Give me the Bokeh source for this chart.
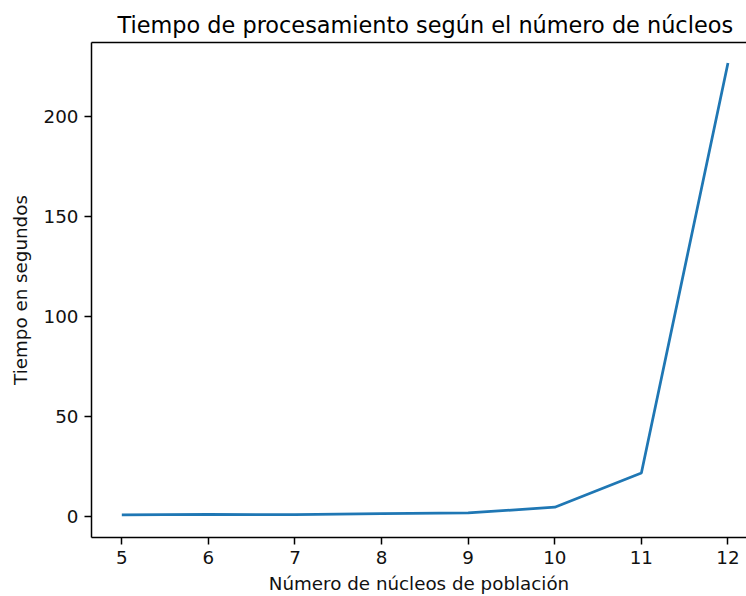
from bokeh.plotting import figure
from bokeh.models import Range1d, FixedTicker, LinearAxis
from bokeh.embed import file_html
from bokeh.resources import INLINE

nucleos = [5, 6, 7, 8, 9, 10, 11, 12]
tiempo = [0.6, 0.9, 0.7, 1.2, 1.6, 4.5, 21.6, 227.0]
x_ticks = [5, 6, 7, 8, 9, 10, 11, 12]
y_ticks = [0, 50, 100, 150, 200]

FONT = "DejaVu Sans"
LBL = "18.3px"

p = figure(width=746, height=596, output_backend="svg", toolbar_location=None,
           x_range=Range1d(4.65, 12.214), y_range=Range1d(-10.7, 237.3),
           min_border_left=91, min_border_right=0, min_border_top=42, min_border_bottom=58,
           title="Tiempo de procesamiento según el número de núcleos")

p.line(nucleos, tiempo, line_color="#1f77b4", line_width=2.75)

p.title.align = "left"
p.title.offset = 26
p.title.text_font = FONT
p.title.text_font_size = "22.4px"
p.title.text_font_style = "normal"
p.title.text_color = "#000000"

p.outline_line_color = None
p.grid.visible = False
p.background_fill_color = "white"
p.border_fill_color = "white"

xax = p.below[0]
yax = p.left[0]

for ax in (xax, yax):
    ax.axis_line_color = "#000000"
    ax.axis_line_width = 1.5
    ax.major_tick_line_color = "#000000"
    ax.major_tick_line_width = 1.5
    ax.major_tick_out = 7
    ax.major_tick_in = 0
    ax.minor_tick_line_color = None
    ax.major_label_text_font = FONT
    ax.major_label_text_font_size = LBL
    ax.major_label_text_color = "#111111"
    ax.axis_label_text_font = FONT
    ax.axis_label_text_font_size = LBL
    ax.axis_label_text_font_style = "normal"
    ax.axis_label_text_color = "#111111"
    ax.major_label_standoff = 6

xax.ticker = FixedTicker(ticks=x_ticks)
yax.ticker = FixedTicker(ticks=y_ticks)
xax.axis_label = "Número de núcleos de población"
yax.axis_label = "Tiempo en segundos"
xax.axis_label_standoff = 6
yax.axis_label_standoff = 10

top_axis = LinearAxis(ticker=FixedTicker(ticks=[]), axis_line_color="#000000",
                      axis_line_width=1.5, major_tick_line_color=None,
                      minor_tick_line_color=None, major_label_text_font_size="0px",
                      major_label_standoff=0, major_tick_out=0, major_tick_in=0)
p.add_layout(top_axis, "above")

open("out.html", "w").write(file_html(p, INLINE))
